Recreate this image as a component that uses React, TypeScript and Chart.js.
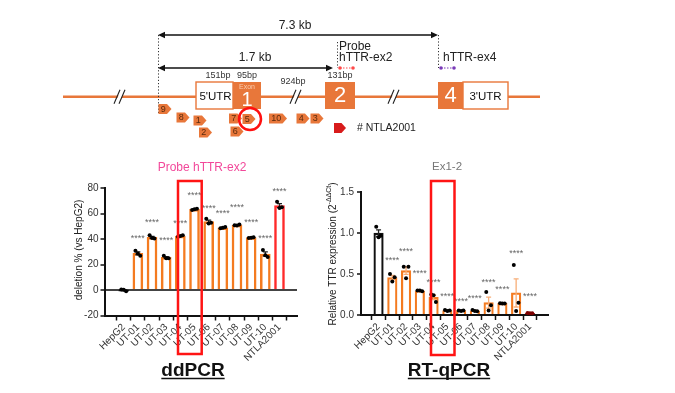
import React, { useEffect, useRef } from 'react';
import { Chart, registerables } from 'chart.js';
Chart.register(...registerables);

const W = 675;
const H = 393;
const FONT = '"Liberation Sans", Arial, sans-serif';

// ---------- data ----------
const categories = ['HepG2', 'UT-01', 'UT-02', 'UT-03', 'UT-04', 'UT-05', 'UT-06', 'UT-07', 'UT-08', 'UT-09', 'UT-10', 'NTLA2001'];
const significance = ['', '****', '****', '****', '****', '****', '****', '****', '****', '****', '****', '****'];

const ddpcrReplicates = [
  [0.5, -0.9, 0.3],
  [31.0, 27.0, 28.7],
  [43.0, 40.5, 41.0],
  [27.0, 25.0, 25.1],
  [42.0, 43.0, 42.5],
  [63.0, 64.0, 63.5],
  [56.0, 53.0, 52.4],
  [48.5, 49.5, 49.0],
  [51.0, 51.5, 50.8],
  [41.0, 41.5, 41.1],
  [31.5, 26.0, 27.4],
  [69.5, 65.2, 64.5],
];
// level (in axis units) at which the significance stars sit
const ddpcrStarLevels = [0, 41.4, 54.3, 39.9, 53.2, 75.5, 65, 61.1, 66, 54.3, 41.4, 78.7];

const qpcrReplicates = [
  [1.08, 0.97, 0.95],
  [0.50, 0.46, 0.41],
  [0.59, 0.59, 0.45],
  [0.30, 0.29, 0.30],
  [0.25, 0.16, 0.24],
  [0.06, 0.055, 0.05],
  [0.055, 0.055, 0.05],
  [0.06, 0.045, 0.05],
  [0.28, 0.12, 0.055],
  [0.145, 0.14, 0.14],
  [0.61, 0.15, 0.05],
  [0.025, 0.02, 0.02],
];
const qpcrStarLevels = [0, 0.69, 0.79, 0.52, 0.42, 0.25, 0.18, 0.22, 0.42, 0.33, 0.77, 0.24];

const ddpcrYTicks = [-20, 0, 20, 40, 60, 80];
const qpcrYTicks = [0, 0.5, 1.0, 1.5];

// gene schematic (schematic units)
const geneLine = { x0: 63, x1: 540, y: 96.7 };
const breakMarks = [120, 296, 394];
const utrBoxes = [
  { x0: 196, x1: 233, label: "5'UTR", tx: 215.5 },
  { x0: 463, x1: 508, label: "3'UTR", tx: 485.5 },
];
const exonBoxes = [
  { x0: 233, x1: 261, label: '1', sub: 'Exon', ty: 100.5, size: 20 },
  { x0: 325, x1: 355, label: '2', sub: '', ty: 95.5, size: 22 },
  { x0: 438, x1: 463, label: '4', sub: '', ty: 95.5, size: 22 },
];
const boxRange = { top: 82, bottom: 109 };
const bpLabels = [
  { x: 218, y: 76, text: '151bp' },
  { x: 247, y: 76, text: '95bp' },
  { x: 293, y: 81.5, text: '924bp' },
  { x: 340, y: 76, text: '131bp' },
];
const spanArrows = [
  { x0: 158, x1: 438, y: 35, label: '7.3 kb', lx: 295, ly: 26 },
  { x0: 158, x1: 333, y: 68, label: '1.7 kb', lx: 255, ly: 58 },
];
const dottedGuides = [
  { x: 158, y0: 35, y1: 113 },
  { x: 438, y0: 35, y1: 68 },
  { x: 337, y0: 42, y1: 68 },
];
const probes = [
  { x0: 340, x1: 353, y: 68, color: '#FF4A4A', lines: ['Probe', 'hTTR-ex2'], tx: 339, ty: [47, 57.5] },
  { x0: 441, x1: 454, y: 68, color: '#7A3AB8', lines: ['hTTR-ex4'], tx: 443, ty: [57.5] },
];
const guideRNAs = [
  { id: '9', x: 165, y: 109 },
  { id: '8', x: 183, y: 117.5 },
  { id: '1', x: 200, y: 120.5 },
  { id: '2', x: 205.5, y: 132.5 },
  { id: '7', x: 235.5, y: 118.5 },
  { id: '5', x: 249, y: 119 },
  { id: '6', x: 237, y: 131.5 },
  { id: '10', x: 278, y: 118.5 },
  { id: '4', x: 303, y: 118.5 },
  { id: '3', x: 317, y: 118.5 },
];
const highlightGuide = { x: 250, y: 119, r: 11 };
const legendItem = { x: 340, y: 128, text: '# NTLA2001', tx: 357 };

// ---------- helpers ----------
const mean = (a: number[]) => a.reduce((s, v) => s + v, 0) / a.length;
const sem = (a: number[]) => {
  const m = mean(a);
  const v = a.reduce((s, x) => s + (x - m) * (x - m), 0) / (a.length - 1);
  return Math.sqrt(v / a.length);
};
const JITTER = [-0.17, 0.17, 0];

const ORANGE = '#F47B20';
const GENE_ORANGE = '#E8773A';

type Rect = { l: number; r: number; t: number; b: number };
type BarCfg = {
  reps: number[][];
  starLevels: number[];
  yTicks: number[];
  yMin: number;
  yMax: number;
  xMin: number;
  xMax: number;
  area: Rect;
  barFill: string[];
  barBorder: string[];
  barWidth: number;
  borderWidth: number;
  errColor: string[];
  dotColor: string[];
  tickFmt: (v: number) => string;
  tickLength: number;
  tickPad: number;
  zeroLine: boolean;
  title: string;
  titleColor: string;
  titleSize: number;
  titleX: number;
  titleY: number;
  yLabel: string;
  yLabelSup: string;
  yLabelSuffix: string;
  yLabelX: number;
  yLabelY: number;
  footer: string;
  footerX: number;
  footerY: number;
  highlight: Rect;
};

const Y_W = 40;
const X_H = 60;

function makeBarChart(canvas: HTMLCanvasElement, c: BarCfg) {
  const means = c.reps.map(mean);
  const sems = c.reps.map(sem);
  const dots: { x: number; y: number }[] = [];
  const dotColors: string[] = [];
  c.reps.forEach((r, i) =>
    r.forEach((v, j) => {
      dots.push({ x: i + JITTER[j % JITTER.length], y: v });
      dotColors.push(c.dotColor[i]);
    })
  );

  const plugin = {
    id: 'extras',
    afterDatasetDraw(chart: any, args: any) {
      if (args.index !== 0) return;
      const { ctx } = chart;
      const xs = chart.scales.x;
      const ys = chart.scales.y;
      ctx.save();
      c.reps.forEach((r, i) => {
        const m = means[i];
        const s = sems[i];
        const cx = xs.getPixelForValue(i);
        const yt = ys.getPixelForValue(m + s);
        const yb = ys.getPixelForValue(m - s);
        ctx.strokeStyle = c.errColor[i];
        ctx.lineWidth = 1.3;
        ctx.beginPath();
        ctx.moveTo(cx, yt);
        ctx.lineTo(cx, yb);
        ctx.moveTo(cx - 2.5, yt);
        ctx.lineTo(cx + 2.5, yt);
        ctx.moveTo(cx - 2.5, yb);
        ctx.lineTo(cx + 2.5, yb);
        ctx.stroke();
      });
      ctx.restore();
    },
    afterDraw(chart: any) {
      const { ctx } = chart;
      const xs = chart.scales.x;
      const ys = chart.scales.y;
      ctx.save();
      // significance stars
      ctx.fillStyle = '#666';
      ctx.font = `9px ${FONT}`;
      ctx.textAlign = 'center';
      ctx.textBaseline = 'middle';
      c.reps.forEach((_r, i) => {
        if (!significance[i]) return;
        ctx.fillText(significance[i], xs.getPixelForValue(i), ys.getPixelForValue(c.starLevels[i]) + 1.5);
      });
      // title
      ctx.fillStyle = c.titleColor;
      ctx.font = `${c.titleSize}px ${FONT}`;
      ctx.fillText(c.title, c.titleX, c.titleY);
      // y label (rotated)
      ctx.save();
      ctx.translate(c.yLabelX, c.yLabelY);
      ctx.rotate(-Math.PI / 2);
      ctx.fillStyle = '#222';
      ctx.textBaseline = 'middle';
      ctx.font = `10px ${FONT}`;
      const w1 = ctx.measureText(c.yLabel).width;
      ctx.font = `7px ${FONT}`;
      const w2 = c.yLabelSup ? ctx.measureText(c.yLabelSup).width : 0;
      ctx.font = `10px ${FONT}`;
      const w3 = c.yLabelSuffix ? ctx.measureText(c.yLabelSuffix).width : 0;
      let x0 = -(w1 + w2 + w3) / 2;
      ctx.textAlign = 'left';
      ctx.fillText(c.yLabel, x0, 0);
      x0 += w1;
      if (c.yLabelSup) {
        ctx.font = `7px ${FONT}`;
        ctx.fillText(c.yLabelSup, x0, -4);
        x0 += w2;
      }
      if (c.yLabelSuffix) {
        ctx.font = `10px ${FONT}`;
        ctx.fillText(c.yLabelSuffix, x0, 0);
      }
      ctx.restore();
      // footer
      ctx.fillStyle = '#111';
      ctx.font = `bold 19px ${FONT}`;
      ctx.textAlign = 'center';
      ctx.textBaseline = 'alphabetic';
      ctx.fillText(c.footer, c.footerX, c.footerY);
      const fw = ctx.measureText(c.footer).width;
      ctx.strokeStyle = '#111';
      ctx.lineWidth = 1.6;
      ctx.beginPath();
      ctx.moveTo(c.footerX - fw / 2, c.footerY + 2.5);
      ctx.lineTo(c.footerX + fw / 2, c.footerY + 2.5);
      ctx.stroke();
      // highlight box
      ctx.strokeStyle = '#FF1414';
      ctx.lineWidth = 2.5;
      const h = c.highlight;
      ctx.strokeRect(h.l, h.t, h.r - h.l, h.b - h.t);
      ctx.restore();
    },
  };

  return new Chart(canvas, {
    type: 'bar',
    data: {
      datasets: [
        {
          type: 'bar',
          data: means.map((m, i) => ({ x: i, y: m })),
          backgroundColor: c.barFill,
          borderColor: c.barBorder,
          borderWidth: c.borderWidth,
          borderSkipped: 'start',
          barThickness: c.barWidth,
          order: 2,
        } as any,
        {
          type: 'scatter',
          data: dots,
          pointBackgroundColor: dotColors,
          pointBorderWidth: 0,
          pointRadius: 2,
          order: 1,
          clip: false,
        } as any,
      ],
    },
    options: {
      responsive: false,
      animation: false,
      devicePixelRatio: 1,
      events: [],
      layout: {
        padding: {
          left: c.area.l - Y_W,
          right: W - c.area.r,
          top: c.area.t,
          bottom: H - c.area.b - X_H,
        },
      },
      plugins: { legend: { display: false }, tooltip: { enabled: false }, title: { display: false } },
      scales: {
        x: {
          type: 'linear',
          min: c.xMin,
          max: c.xMax,
          afterBuildTicks: (s: any) => {
            s.ticks = categories.map((_, i) => ({ value: i }));
          },
          afterFit: (s: any) => {
            s.height = X_H;
          },
          ticks: {
            autoSkip: false,
            minRotation: 45,
            maxRotation: 45,
            padding: 1,
            color: '#333',
            font: { family: FONT, size: 10 },
            callback: (v: any) => categories[Math.round(Number(v))] ?? '',
          },
          grid: { drawOnChartArea: false, drawTicks: true, tickLength: 5, tickColor: '#111', tickWidth: 1.5 },
          border: { display: true, color: '#111', width: 2 },
        },
        y: {
          type: 'linear',
          min: c.yMin,
          max: c.yMax,
          afterBuildTicks: (s: any) => {
            s.ticks = c.yTicks.map((v) => ({ value: v }));
          },
          afterFit: (s: any) => {
            s.width = Y_W;
          },
          ticks: {
            padding: c.tickPad,
            color: '#333',
            font: { family: FONT, size: 10 },
            callback: (v: any) => c.tickFmt(Number(v)),
          },
          grid: {
            drawOnChartArea: c.zeroLine,
            drawTicks: true,
            tickLength: c.tickLength,
            tickColor: '#111',
            tickWidth: 1.5,
            color: (ctx: any) => (ctx.tick && ctx.tick.value === 0 ? '#444' : 'rgba(0,0,0,0)'),
            lineWidth: (ctx: any) => (ctx.tick && ctx.tick.value === 0 ? 2 : 0),
          },
          border: { display: true, color: '#111', width: 2 },
        },
      },
    } as any,
    plugins: [plugin],
  });
}

function makeDiagram(canvas: HTMLCanvasElement) {
  const plugin = {
    id: 'gene',
    afterDraw(chart: any) {
      const { ctx } = chart;
      const xs = chart.scales.x;
      const ys = chart.scales.y;
      const px = (v: number) => xs.getPixelForValue(v);
      const py = (v: number) => ys.getPixelForValue(v);
      ctx.save();
      // backbone
      ctx.strokeStyle = GENE_ORANGE;
      ctx.lineWidth = 2.6;
      ctx.beginPath();
      ctx.moveTo(px(geneLine.x0), py(geneLine.y));
      ctx.lineTo(px(geneLine.x1), py(geneLine.y));
      ctx.stroke();
      // break marks
      breakMarks.forEach((bx) => {
        const cx = px(bx);
        const cy = py(geneLine.y);
        ctx.fillStyle = '#fff';
        ctx.beginPath();
        ctx.moveTo(cx - 5, cy + 7);
        ctx.lineTo(cx - 1, cy + 7);
        ctx.lineTo(cx + 5, cy - 7);
        ctx.lineTo(cx + 1, cy - 7);
        ctx.closePath();
        ctx.fill();
        ctx.strokeStyle = '#222';
        ctx.lineWidth = 1.1;
        ctx.beginPath();
        ctx.moveTo(cx - 6, cy + 7);
        ctx.lineTo(cx, cy - 7);
        ctx.moveTo(cx - 1, cy + 7);
        ctx.lineTo(cx + 5, cy - 7);
        ctx.stroke();
      });
      // dotted guides
      ctx.strokeStyle = '#333';
      ctx.lineWidth = 1;
      ctx.setLineDash([1.2, 2]);
      dottedGuides.forEach((g) => {
        ctx.beginPath();
        ctx.moveTo(px(g.x) + 0.5, py(g.y0));
        ctx.lineTo(px(g.x) + 0.5, py(g.y1));
        ctx.stroke();
      });
      ctx.setLineDash([]);
      // span arrows
      spanArrows.forEach((a) => {
        const x0 = px(a.x0);
        const x1 = px(a.x1);
        const y = py(a.y);
        ctx.strokeStyle = '#111';
        ctx.fillStyle = '#111';
        ctx.lineWidth = 1.3;
        ctx.beginPath();
        ctx.moveTo(x0 + 3, y);
        ctx.lineTo(x1 - 3, y);
        ctx.stroke();
        ctx.beginPath();
        ctx.moveTo(x0, y);
        ctx.lineTo(x0 + 7, y - 3.2);
        ctx.lineTo(x0 + 7, y + 3.2);
        ctx.closePath();
        ctx.moveTo(x1, y);
        ctx.lineTo(x1 - 7, y - 3.2);
        ctx.lineTo(x1 - 7, y + 3.2);
        ctx.closePath();
        ctx.fill();
        ctx.font = `12px ${FONT}`;
        ctx.textAlign = 'center';
        ctx.textBaseline = 'middle';
        ctx.fillStyle = '#222';
        ctx.fillText(a.label, px(a.lx), py(a.ly));
      });
      // probes
      probes.forEach((p) => {
        const y = py(p.y);
        ctx.strokeStyle = p.color;
        ctx.fillStyle = p.color;
        ctx.lineWidth = 1.2;
        ctx.setLineDash([1.5, 1.5]);
        ctx.beginPath();
        ctx.moveTo(px(p.x0), y);
        ctx.lineTo(px(p.x1), y);
        ctx.stroke();
        ctx.setLineDash([]);
        [p.x0, p.x1].forEach((xx) => {
          ctx.beginPath();
          ctx.arc(px(xx), y, 1.8, 0, Math.PI * 2);
          ctx.fill();
        });
        ctx.fillStyle = '#222';
        ctx.font = `12px ${FONT}`;
        ctx.textAlign = 'left';
        ctx.textBaseline = 'middle';
        p.lines.forEach((t, k) => ctx.fillText(t, px(p.tx), py(p.ty[k])));
      });
      // bp labels
      ctx.fillStyle = '#333';
      ctx.font = `9px ${FONT}`;
      ctx.textAlign = 'center';
      ctx.textBaseline = 'middle';
      bpLabels.forEach((b) => ctx.fillText(b.text, px(b.x), py(b.y)));
      // UTR boxes
      utrBoxes.forEach((b) => {
        ctx.fillStyle = '#fff';
        ctx.fillRect(px(b.x0), py(boxRange.top), px(b.x1) - px(b.x0), py(boxRange.bottom) - py(boxRange.top));
        ctx.strokeStyle = GENE_ORANGE;
        ctx.lineWidth = 1.4;
        ctx.strokeRect(px(b.x0), py(boxRange.top), px(b.x1) - px(b.x0), py(boxRange.bottom) - py(boxRange.top));
        ctx.fillStyle = '#111';
        ctx.font = `11.5px ${FONT}`;
        ctx.textAlign = 'center';
        ctx.fillText(b.label, px(b.tx), py(geneLine.y));
      });
      // exon boxes
      exonBoxes.forEach((b) => {
        ctx.fillStyle = GENE_ORANGE;
        ctx.fillRect(px(b.x0), py(boxRange.top), px(b.x1) - px(b.x0), py(boxRange.bottom) - py(boxRange.top));
        const cx = (px(b.x0) + px(b.x1)) / 2;
        if (b.sub) {
          ctx.fillStyle = '#F9CDB0';
          ctx.font = `7px ${FONT}`;
          ctx.textAlign = 'center';
          ctx.fillText(b.sub, cx, py(boxRange.top) + 5.5);
        }
        ctx.fillStyle = '#fff';
        ctx.font = `${b.size}px ${FONT}`;
        ctx.textAlign = 'center';
        ctx.textBaseline = 'middle';
        ctx.fillText(b.label, cx, py(b.ty));
      });
      // guide RNA tags
      const tag = (cx: number, cy: number, label: string, color: string, textColor: string) => {
        ctx.font = `9px ${FONT}`;
        const tw = label ? ctx.measureText(label).width : 4;
        const h = 10;
        const bodyW = Math.max(tw + 3.5, 7.5);
        const tip = 4.5;
        const left = cx - (bodyW + tip) / 2;
        ctx.fillStyle = color;
        ctx.beginPath();
        ctx.moveTo(left, cy - h / 2);
        ctx.lineTo(left + bodyW, cy - h / 2);
        ctx.lineTo(left + bodyW + tip, cy);
        ctx.lineTo(left + bodyW, cy + h / 2);
        ctx.lineTo(left, cy + h / 2);
        ctx.closePath();
        ctx.fill();
        if (label) {
          ctx.fillStyle = textColor;
          ctx.textAlign = 'center';
          ctx.textBaseline = 'middle';
          ctx.fillText(label, left + bodyW / 2 + 0.5, cy + 0.5);
        }
      };
      guideRNAs.forEach((g) => tag(px(g.x), py(g.y), g.id, '#E8773A', '#5A2A0E'));
      // highlight circle
      ctx.strokeStyle = '#FF1010';
      ctx.lineWidth = 2.5;
      ctx.beginPath();
      ctx.arc(px(highlightGuide.x), py(highlightGuide.y), highlightGuide.r, 0, Math.PI * 2);
      ctx.stroke();
      // legend
      tag(px(legendItem.x), py(legendItem.y), '', '#D81B1B', '#fff');
      ctx.fillStyle = '#222';
      ctx.font = `10.5px ${FONT}`;
      ctx.textAlign = 'left';
      ctx.textBaseline = 'middle';
      ctx.fillText(legendItem.text, px(legendItem.tx), py(legendItem.y));
      ctx.restore();
    },
  };
  return new Chart(canvas, {
    type: 'scatter',
    data: { datasets: [] },
    options: {
      responsive: false,
      animation: false,
      devicePixelRatio: 1,
      events: [],
      layout: { padding: 0 },
      plugins: { legend: { display: false }, tooltip: { enabled: false } },
      scales: {
        x: { type: 'linear', min: 0, max: W, display: false },
        y: { type: 'linear', min: 0, max: H, reverse: true, display: false },
      },
    } as any,
    plugins: [plugin],
  });
}

const ddpcrCfg: BarCfg = {
  reps: ddpcrReplicates,
  starLevels: ddpcrStarLevels,
  yTicks: ddpcrYTicks,
  yMin: -20,
  yMax: 80,
  xMin: -0.79,
  xMax: 11.67,
  area: { l: 104.5, r: 297, t: 188.3, b: 315.5 },
  barFill: categories.map(() => '#ffffff'),
  barBorder: categories.map((_, i) => (i === 0 ? '#111' : i === categories.length - 1 ? '#FF2A2A' : ORANGE)),
  barWidth: 10,
  borderWidth: 2.5,
  errColor: categories.map(() => '#222'),
  dotColor: categories.map(() => '#000'),
  tickFmt: (v) => String(v),
  tickLength: 4,
  tickPad: 2,
  zeroLine: true,
  title: 'Probe hTTR-ex2',
  titleColor: '#F2489A',
  titleSize: 12,
  titleX: 202,
  titleY: 168,
  yLabel: 'deletion % (vs HepG2)',
  yLabelSup: '',
  yLabelSuffix: '',
  yLabelX: 79,
  yLabelY: 250,
  footer: 'ddPCR',
  footerX: 193,
  footerY: 376,
  highlight: { l: 178, r: 201.7, t: 181, b: 354 },
};

const qpcrCfg: BarCfg = {
  reps: qpcrReplicates,
  starLevels: qpcrStarLevels,
  yTicks: qpcrYTicks,
  yMin: 0,
  yMax: 1.5,
  xMin: -0.71,
  xMax: 11.75,
  area: { l: 361, r: 548, t: 192.3, b: 315 },
  barFill: categories.map((_, i) => (i === categories.length - 1 ? '#B01515' : '#ffffff')),
  barBorder: categories.map((_, i) => (i === 0 ? '#111' : i === categories.length - 1 ? '#C81E1E' : ORANGE)),
  barWidth: 9.5,
  borderWidth: 2.2,
  errColor: categories.map((_, i) => (i === 0 ? '#222' : '#F8AE78')),
  dotColor: categories.map((_, i) => (i === categories.length - 1 ? '#7A0000' : '#000')),
  tickFmt: (v) => v.toFixed(1),
  tickLength: 4,
  tickPad: 3,
  zeroLine: false,
  title: 'Ex1-2',
  titleColor: '#777',
  titleSize: 11.5,
  titleX: 447,
  titleY: 167,
  yLabel: 'Relative TTR expression (2',
  yLabelSup: '-ΔΔCt',
  yLabelSuffix: ')',
  yLabelX: 333,
  yLabelY: 254,
  footer: 'RT-qPCR',
  footerX: 449,
  footerY: 376,
  highlight: { l: 431, r: 454.5, t: 181, b: 355 },
};

export default function App() {
  const diagRef = useRef<HTMLCanvasElement>(null);
  const ddRef = useRef<HTMLCanvasElement>(null);
  const qRef = useRef<HTMLCanvasElement>(null);

  useEffect(() => {
    const charts: Chart[] = [];
    if (diagRef.current) charts.push(makeDiagram(diagRef.current));
    if (ddRef.current) charts.push(makeBarChart(ddRef.current, ddpcrCfg));
    if (qRef.current) charts.push(makeBarChart(qRef.current, qpcrCfg));
    return () => charts.forEach((c) => c.destroy());
  }, []);

  const cs: React.CSSProperties = { position: 'absolute', left: 0, top: 0, width: W, height: H };
  return (
    <div style={{ position: 'absolute', left: 0, top: 0, width: W, height: H, background: '#fff', overflow: 'hidden' }}>
      <canvas ref={diagRef} width={W} height={H} style={cs} />
      <canvas ref={ddRef} width={W} height={H} style={cs} />
      <canvas ref={qRef} width={W} height={H} style={cs} />
    </div>
  );
}
